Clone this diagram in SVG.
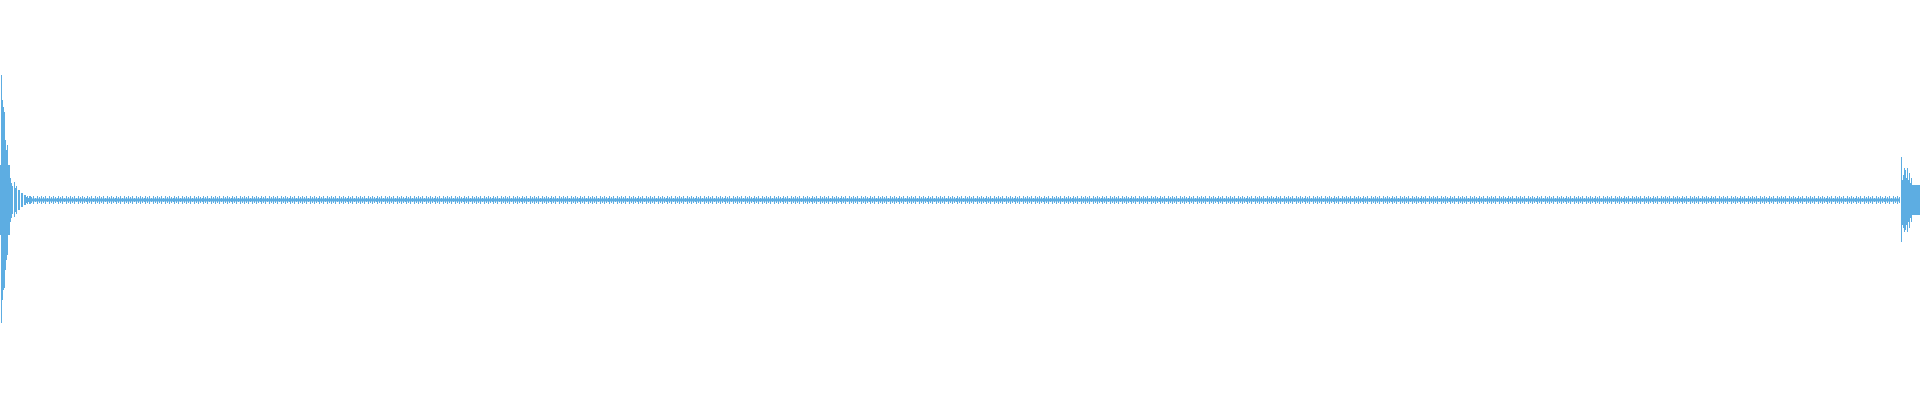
<svg xmlns="http://www.w3.org/2000/svg" width="1920" height="400" viewBox="0 0 1920 400">
<style>.w{stroke:#5dade2;stroke-width:1;fill:none}</style>
<defs>
<pattern id="n" x="0" y="0" width="29" height="400" patternUnits="userSpaceOnUse">
<path class="w" d="M0.5 196V204M2.5 197V203M4.5 195V205M6.5 198V202M8.5 196V204M10.5 197V203M12.5 195.5V204.5M14.5 197V203M16.5 196V204M18.5 198V202M20.5 196V204M22.5 197V203M24.5 195V205M26.5 197V203M28.5 198V202"/>
</pattern>
</defs>
<rect width="1920" height="400" fill="#fff"/>
<g id="wave">
<rect x="25" y="196" width="1875" height="8" fill="url(#n)"/>
<rect x="25" y="198.5" width="1875" height="3" fill="#5dade2"/>
<rect x="0" y="165" width="10" height="70" fill="#5dade2"/>
<rect x="1901" y="185" width="19" height="30" fill="#5dade2"/>
<path class="w" d="M1.5 75V323M2.5 100V300M3.5 107V290M4.5 112V288M5.5 140V270M6.5 150V260M7.5 145V255M8.5 165V235M9.5 173V230M10.5 178V222M11.5 183V218M12.5 186V214M14.5 182V217M15.5 188V212M16.5 186V214M18.5 190V210M19.5 190V210M21.5 193V207M22.5 193V207M24.5 195V205M25.5 195V205M27.5 196V204M30.5 196V204"/>
<path class="w" d="M1901.5 157V242M1902.5 180V225M1903.5 175V228M1904.5 168V232M1905.5 170V230M1906.5 178V225M1907.5 168V232M1908.5 180V222M1909.5 173V228M1910.5 183V218M1911.5 178V222M1912.5 186V214M1913.5 185V215M1915.5 188V212M1917.5 188V212M1919.5 190V210"/>
</g>
</svg>
